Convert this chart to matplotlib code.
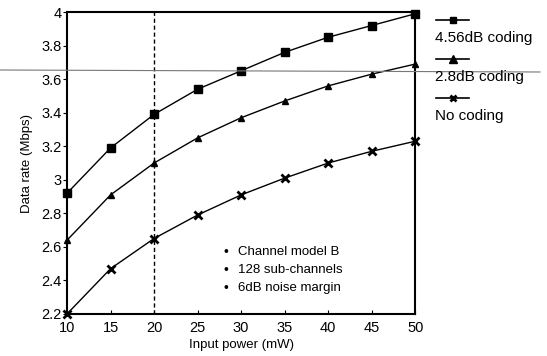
import matplotlib
matplotlib.use("Agg")
import matplotlib.pyplot as plt
from matplotlib.lines import Line2D

plt.rcParams['font.family'] = ['Liberation Sans', 'DejaVu Sans']

power = [10, 15, 20, 25, 30, 35, 40, 45, 50]
rate_456 = [2.92, 3.19, 3.39, 3.54, 3.65, 3.76, 3.85, 3.92, 3.99]
rate_28 = [2.64, 2.91, 3.10, 3.25, 3.37, 3.47, 3.56, 3.63, 3.69]
rate_none = [2.20, 2.47, 2.65, 2.79, 2.91, 3.01, 3.10, 3.17, 3.23]
labels = ["4.56dB coding", "2.8dB coding", "No coding"]
notes = ["Channel model B", "128 sub-channels", "6dB noise margin"]

fig = plt.figure(figsize=(5.47, 3.56), dpi=100)
ax = fig.add_axes([0.1225, 0.118, 0.6365, 0.848])

styles = [dict(marker="s", ms=6), dict(marker="^", ms=4), dict(marker="x", ms=6, mew=2)]
for y, st in zip([rate_456, rate_28, rate_none], styles):
    ax.plot(power, y, color="black", lw=1.0, clip_on=False, zorder=3, **st)

ax.axvline(20, color="black", ls=(0, (3, 2)), lw=1.0)

ax.set_xlim(10, 50)
ax.set_ylim(2.2, 4)
ax.set_xticks(power)
ax.set_yticks([2.2, 2.4, 2.6, 2.8, 3.0, 3.2, 3.4, 3.6, 3.8, 4.0])
ax.set_yticklabels(["2.2", "2.4", "2.6", "2.8", "3", "3.2", "3.4", "3.6", "3.8", "4"])
ax.tick_params(axis="x", direction="in", length=3, labelsize=10.5, pad=5)
ax.tick_params(axis="y", direction="out", length=3, labelsize=10.5, pad=1)
for s in ax.spines.values():
    s.set_linewidth(1.5)

ax.set_xlabel("Input power (mW)", fontsize=9.5, labelpad=3)
ax.set_ylabel("Data rate (Mbps)", fontsize=9.5, labelpad=6)

# notes box inside the axes
for i, t in enumerate(notes):
    yy = 0.205 - i * 0.06
    ax.text(0.455, yy, "\u2022", transform=ax.transAxes, fontsize=10, va="center", ha="center")
    ax.text(0.49, yy, t, transform=ax.transAxes, fontsize=9.5, va="center")

# legend drawn outside the axes: marker line above label
leg_markers = [dict(marker="s", ms=5), dict(marker="^", ms=6), dict(marker="x", ms=5, mew=2)]
for i, (lab, st) in enumerate(zip(labels, leg_markers)):
    ly = 1 - (20 + i * 39) / 356
    ty = 1 - (38 + i * 39) / 356
    x0, x1 = 436 / 547, 469 / 547
    fig.add_artist(Line2D([x0, (x0 + x1) / 2, x1], [ly, ly, ly], color="black",
                          lw=1.2, markevery=[1], **st))
    fig.text(435 / 547, ty, lab, fontsize=11, va="center")

# scan artefact line across the page
fig.add_artist(Line2D([0, 540 / 547], [1 - 70 / 356, 1 - 72 / 356], color="#777777", lw=0.8))

fig.savefig("out.png", dpi=100)
